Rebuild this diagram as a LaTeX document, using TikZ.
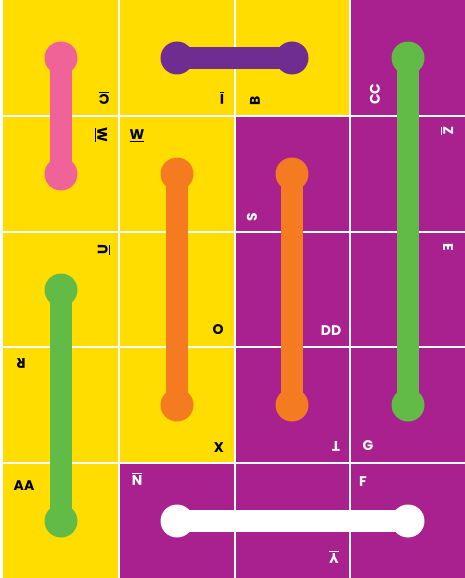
\documentclass[tikz,border=0pt]{standalone}
\usepackage{fontspec}
\setmainfont{Poppins}
\definecolor{ylw}{HTML}{FFDD00}
\definecolor{prp}{HTML}{A8218E}
\definecolor{pnk}{HTML}{EF6398}
\definecolor{dpr}{HTML}{6F2C91}
\definecolor{org}{HTML}{F47B20}
\definecolor{grn}{HTML}{62BB46}
\newcommand{\uln}[1]{\setbox0=\hbox{#1}\vtop{\box0\kern1.3pt\hrule height1.4pt}}
\tikzset{
  lbl/.style={font=\bfseries\fontsize{14}{14}\selectfont, inner sep=0pt},
  bk/.style={lbl,text=black},
  wt/.style={lbl,text=white},
  endpt/.style={circle, minimum size=33pt, inner sep=0pt},
  bar/.style={line width=22pt}
}
\begin{document}
\begin{tikzpicture}[x=1pt,y=-1pt]
\useasboundingbox (0,0) rectangle (465,578);
\fill[white] (0,0) rectangle (465,578);
% cells
\fill[ylw] (3,0) rectangle (119,578);
\fill[ylw] (119,0) rectangle (235,463);
\fill[ylw] (235,0) rectangle (350,116);
\fill[prp] (350,0) rectangle (465,578);
\fill[prp] (235,116) rectangle (350,578);
\fill[prp] (119,463) rectangle (235,578);
% grid lines
\foreach \x in {119,235,350} \draw[white,line width=1.5pt] (\x,0) -- (\x,578);
\foreach \y in {116,232,347,463} \draw[white,line width=1.5pt] (3,\y) -- (465,\y);
% bars
\node[endpt,fill=pnk] (p1) at (61,58) {};
\node[endpt,fill=pnk] (p2) at (61,174) {};
\draw[bar,pnk] (p1.center) -- (p2.center);
\node[endpt,fill=dpr] (d1) at (177,58) {};
\node[endpt,fill=dpr] (d2) at (292,58) {};
\draw[bar,dpr] (d1.center) -- (d2.center);
\node[endpt,fill=grn] (g1) at (408,58) {};
\node[endpt,fill=grn] (g2) at (408,405) {};
\draw[bar,grn] (g1.center) -- (g2.center);
\node[endpt,fill=org] (o1) at (177,174) {};
\node[endpt,fill=org] (o2) at (177,405) {};
\draw[bar,org] (o1.center) -- (o2.center);
\node[endpt,fill=org] (q1) at (292,174) {};
\node[endpt,fill=org] (q2) at (292,405) {};
\draw[bar,org] (q1.center) -- (q2.center);
\node[endpt,fill=grn] (h1) at (61,290) {};
\node[endpt,fill=grn] (h2) at (61,521) {};
\draw[bar,grn] (h1.center) -- (h2.center);
\node[endpt,fill=white] (w1) at (177,521) {};
\node[endpt,fill=white] (w2) at (408,521) {};
\draw[bar,white] (w1.center) -- (w2.center);
% labels
\node[bk,rotate=180] (lC) at (104,98) {\uln{C}};
\node[bk,rotate=180] (lI) at (222,98) {\uln{I}};
\node[bk,rotate=90] (lB) at (255,101) {B};
\node[wt,rotate=90] (lCC) at (375,94) {CC};
\node[bk,rotate=-90] (lW1) at (101,135) {\uln{W}};
\node[bk] (lW2) at (137,136) {\uln{W}};
\node[wt,rotate=-90] (lZ) at (447,131) {\uln{Z}};
\node[wt,rotate=-90] (lE) at (448,247) {E};
\node[wt,rotate=90] (lS) at (252,217) {S};
\node[bk,rotate=90] (lU) at (104,250) {\uln{U}};
\node[bk] (lO) at (218,330) {O};
\node[wt] (lDD) at (331,331) {DD};
\node[bk,rotate=180] (lR) at (21,363) {R};
\node[bk] (lX) at (219,448) {X};
\node[wt,rotate=180] (lT) at (336,446) {T};
\node[wt] (lG) at (368,446) {G};
\node[bk] (lAA) at (24,486) {AA};
\node[wt,rotate=180] (lN) at (137,479) {\uln{N}};
\node[wt] (lF) at (363,482) {F};
\node[wt,rotate=180] (lY) at (334,557) {\uln{Y}};
\end{tikzpicture}
\end{document}
